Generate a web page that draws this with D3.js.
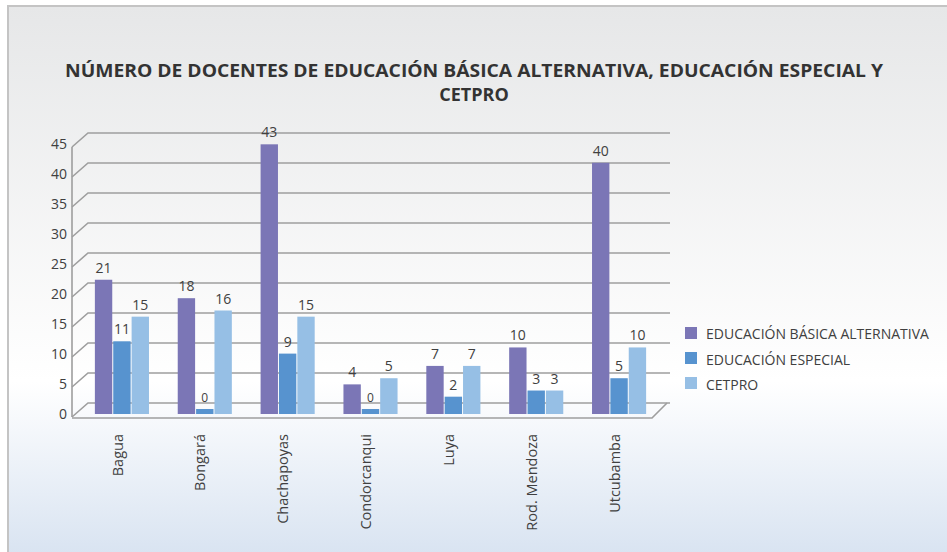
<!DOCTYPE html>
<html><head><meta charset="utf-8">
<script src="https://cdn.jsdelivr.net/npm/d3@7"></script>
<style>body{margin:0;background:#fff}svg{display:block}</style>
</head><body>
<svg id="chart" width="947" height="552"></svg>
<script>
const categories = ["Bagua","Bongará","Chachapoyas","Condorcanqui","Luya","Rod. Mendoza","Utcubamba"];
const seriesNames = ["EDUCACIÓN BÁSICA ALTERNATIVA","EDUCACIÓN ESPECIAL","CETPRO"];
const ebaValues = [21,18,43,4,7,10,40];
const eeValues = [11,0,9,0,2,3,5];
const cetproValues = [15,16,15,5,7,3,10];
const yTicks = [0,5,10,15,20,25,30,35,40,45];
const titleLines = ["NÚMERO DE DOCENTES DE EDUCACIÓN BÁSICA ALTERNATIVA, EDUCACIÓN ESPECIAL Y","CETPRO"];
const colors = ["#7b76b6","#5793cf","#96bfe5"];

const series = [ebaValues, eeValues, cetproValues];
const svg = d3.select("#chart");
const font = "'Open Sans', sans-serif";
const txt = "#404040";

// background
const defs = svg.append("defs");
const g = defs.append("linearGradient").attr("id","bg").attr("x1",0).attr("y1",0).attr("x2",0).attr("y2",1);
g.append("stop").attr("offset","0%").attr("stop-color","#e6e7e8");
g.append("stop").attr("offset","68%").attr("stop-color","#ffffff");
g.append("stop").attr("offset","100%").attr("stop-color","#d8e3f1");
svg.append("rect").attr("x",8).attr("y",6).attr("width",947).attr("height",552).attr("fill","url(#bg)");
svg.append("path").attr("d","M8,552V6H947").attr("fill","none").attr("stroke","#c4c4c4").attr("stroke-width",2);

// title
titleLines.forEach((t,i)=>{
  const el = svg.append("text").attr("x",474).attr("y",77+i*24).attr("text-anchor","middle")
    .attr("font-family",font).attr("font-weight",700).attr("font-size",18).attr("fill","#333")
    .text(t);
  if(i===0) el.attr("textLength",818).attr("lengthAdjust","spacingAndGlyphs");
});

// scales
const yBack = d3.scaleLinear().domain([0,45]).range([403,133]);
const yBar = d3.scaleLinear().domain([0,45]).range([409,132]);
const dx = 16, dy = 14;
const backLeft = 88, backRight = 670;
const x0 = d3.scaleBand().domain(categories).range([81,661]).paddingInner(0.335).paddingOuter(0.1675);
const x1 = d3.scaleBand().domain(d3.range(3)).range([0,x0.bandwidth()]);

const grid = svg.append("g").attr("stroke","#9e9e9e").attr("stroke-width",1.6).attr("fill","none");
yTicks.forEach(v=>{
  const yb = yBack(v);
  grid.append("path").attr("d",`M${backLeft-dx},${yb+dy}L${backLeft},${yb}H${backRight}`);
});
grid.append("path").attr("d",`M${backLeft-dx},${yBack(45)+dy}V${yBack(0)+dy}`);
// floor front edge and right edge
grid.append("path").attr("d",`M${backLeft-dx},${yBack(0)+dy+1}H${backRight-dx-2}L${backRight-3},${yBack(0)}`);

// y tick labels
svg.append("g").selectAll("text").data(yTicks).join("text")
  .attr("x",67).attr("y",d=>yBack(d)+dy-3).attr("dy","0.35em").attr("text-anchor","end")
  .attr("font-family",font).attr("font-size",14).attr("fill",txt).text(d=>d);

// bars
const base = yBar(0)+5;
categories.forEach((c,ci)=>{
  series.forEach((vals,si)=>{
    const v = vals[ci];
    const x = x0(c)+x1(si);
    const w = x1.bandwidth()-1;
    svg.append("rect").attr("x",x).attr("y",yBar(v)).attr("width",w).attr("height",base-yBar(v)).attr("fill",colors[si]);
    svg.append("text").attr("x",x+w/2).attr("y",yBar(v)-7).attr("text-anchor","middle")
      .attr("font-family",font).attr("font-size",v===0?12:14).attr("fill",txt).text(v);
  });
});

// x labels
svg.append("g").selectAll("text").data(categories).join("text")
  .attr("transform",d=>`translate(${x0(d)+x0.bandwidth()/2-5},434) rotate(-90)`)
  .attr("text-anchor","end").attr("dy","0.35em")
  .attr("font-family",font).attr("font-size",14.5).attr("fill",txt).text(d=>d);

// legend
const lg = svg.append("g");
seriesNames.forEach((n,i)=>{
  lg.append("rect").attr("x",685).attr("y",327+i*25).attr("width",12).attr("height",12).attr("fill",colors[i]);
  lg.append("text").attr("x",706).attr("y",339+i*25.5).attr("font-family",font).attr("font-size",14)
    .attr("fill",txt).text(n);
});
</script>
</body></html>
